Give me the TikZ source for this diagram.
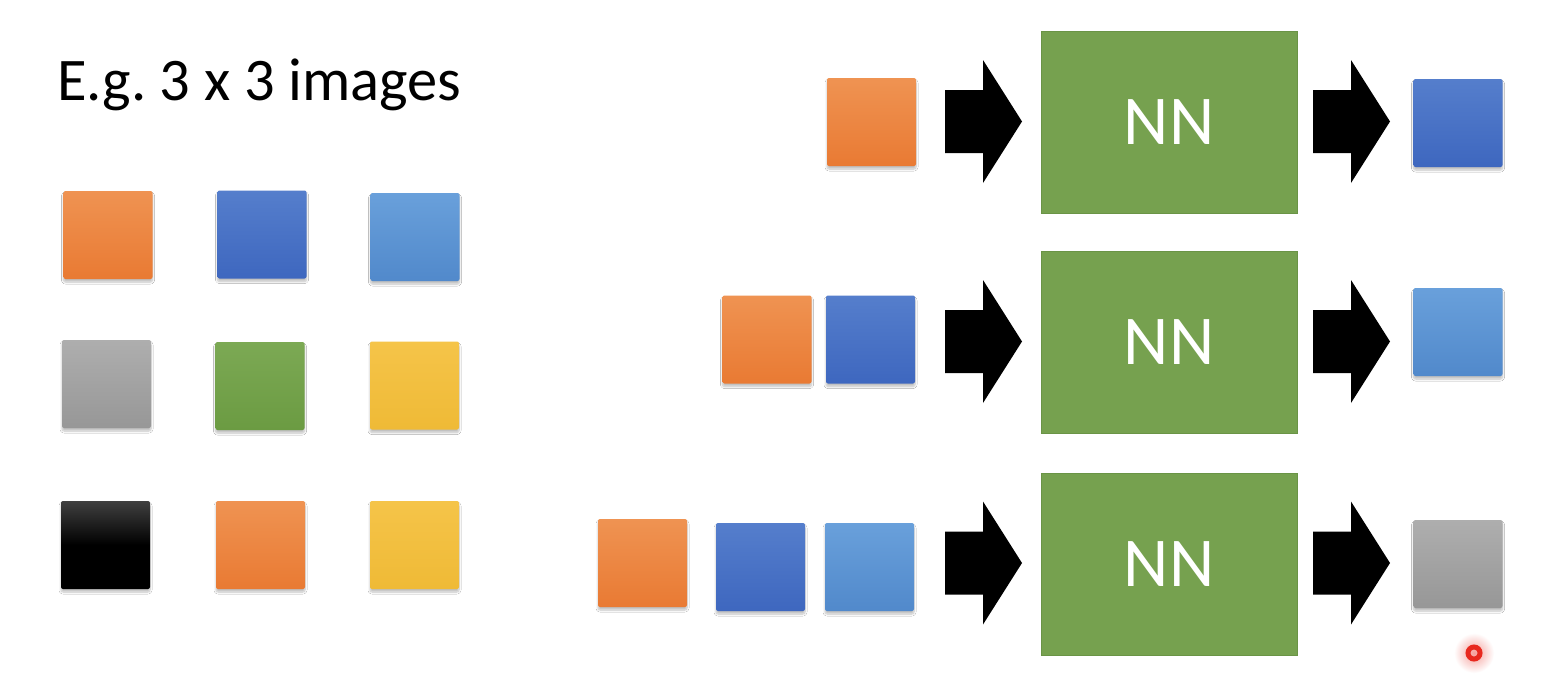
\documentclass[tikz,border=0pt]{standalone}
\usepackage{fontspec}
\setmainfont{Carlito}
\usetikzlibrary{shadows.blur}
\definecolor{orT}{HTML}{EF9352}\definecolor{orB}{HTML}{E97A33}
\definecolor{blT}{HTML}{557ECC}\definecolor{blB}{HTML}{3E67BF}
\definecolor{lbT}{HTML}{69A0DB}\definecolor{lbB}{HTML}{5189CB}
\definecolor{grT}{HTML}{AEAEAE}\definecolor{grB}{HTML}{979797}
\definecolor{gnT}{HTML}{7CA954}\definecolor{gnB}{HTML}{6B9B42}
\definecolor{ywT}{HTML}{F5C449}\definecolor{ywB}{HTML}{EFBA36}
\definecolor{nnfill}{HTML}{76A14F}\definecolor{nnline}{HTML}{6A9446}
\definecolor{cursorred}{HTML}{E8281E}
\tikzset{
  sq/.style={minimum width=89pt, minimum height=88pt, inner sep=0pt, rounded corners=2pt,
    blur shadow={shadow xshift=0pt, shadow yshift=-3pt, shadow blur steps=6, shadow opacity=25, shadow blur radius=2pt}},
  orsq/.style={sq, top color=orT, bottom color=orB},
  blsq/.style={sq, top color=blT, bottom color=blB},
  lbsq/.style={sq, top color=lbT, bottom color=lbB},
  grsq/.style={sq, top color=grT, bottom color=grB},
  gnsq/.style={sq, top color=gnT, bottom color=gnB},
  ywsq/.style={sq, top color=ywT, bottom color=ywB},
  bksq/.style={sq, top color=black!75, bottom color=black, middle color=black},
  nnbox/.style={draw=nnline, line width=1pt, fill=nnfill, minimum width=256pt, minimum height=182pt,
    inner sep=0pt, text=white, font=\fontsize{70}{80}\selectfont},
  barrow/.pic={\fill[black] (0,-31.5) -- (38,-31.5) -- (38,-61.5) -- (77,0) -- (38,61.5) -- (38,31.5) -- (0,31.5) -- cycle;}
}
\begin{document}
\frenchspacing
\begin{tikzpicture}[x=1pt,y=-1pt]
\useasboundingbox (0,0) rectangle (1552,680);
\fill[white] (0,0) rectangle (1552,680);
% title
\node[anchor=base west, inner sep=0pt, font=\fontsize{60.5}{70}\selectfont] (title) at (57,100) {E.g. 3 x 3 images};
% left grid
\node[orsq] (g11) at (108,235) {};
\node[blsq] (g12) at (262,234.5) {};
\node[lbsq] (g13) at (415,237) {};
\node[grsq] (g21) at (106.5,384) {};
\node[gnsq] (g22) at (260,386) {};
\node[ywsq] (g23) at (414.5,385.5) {};
\node[bksq] (g31) at (105.5,545) {};
\node[orsq] (g32) at (260.5,545) {};
\node[ywsq] (g33) at (414.5,545) {};
% row 1
\node[orsq] (a1) at (871.5,122) {};
\node[nnbox] (nn1) at (1169,122.5) {NN};
\node[blsq] (o1) at (1458,123) {};
\pic at (945,121.5) {barrow};
\pic at (1313,121.5) {barrow};
% row 2
\node[orsq] (b1) at (767,339.5) {};
\node[blsq] (b2) at (870.5,339.5) {};
\node[nnbox] (nn2) at (1169,342) {NN};
\node[lbsq] (o2) at (1458,332) {};
\pic at (945,341.5) {barrow};
\pic at (1313,341.5) {barrow};
% row 3
\node[orsq] (c1) at (642.5,563) {};
\node[blsq] (c2) at (760.5,567) {};
\node[lbsq] (c3) at (869.5,567) {};
\node[nnbox] (nn3) at (1169,564.5) {NN};
\node[grsq] (o3) at (1458,564) {};
\pic at (945,563) {barrow};
\pic at (1313,563) {barrow};
% cursor highlight
\shade[inner color=cursorred!45, outer color=white] (1474,653) circle (20);
\draw[cursorred, line width=5pt] (1474,653) circle (6);
\end{tikzpicture}
\end{document}
